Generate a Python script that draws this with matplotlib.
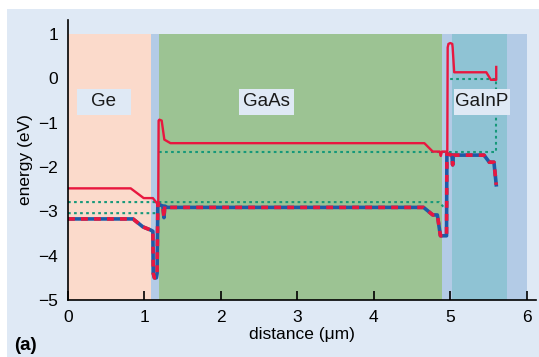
import matplotlib
matplotlib.use("Agg")
import matplotlib.pyplot as plt
from matplotlib.patches import Rectangle

plt.rcParams['font.family'] = ['Liberation Sans Narrow', 'Liberation Sans', 'DejaVu Sans']

# ---- data ----
region_bounds = [0, 1.09, 1.19, 4.89, 5.02, 5.74, 6.0]
region_colors = ['#fbdacb', '#b3cbe6', '#9cc393', '#b3cbe6', '#8fc3d4', '#b3cbe6']

labels = ['Ge', 'GaAs', 'GaInP']
label_x0 = [0.12, 2.24, 5.05]
label_x1 = [0.82, 2.95, 5.78]

ec_x = [0, 0.82, 0.99, 1.11, 1.16, 1.18, 1.185, 1.195, 1.225, 1.26, 1.34, 4.66, 4.77,
        4.86, 4.875, 4.89, 4.96, 4.965, 4.975, 5.0, 5.025, 5.03, 5.05, 5.47, 5.53, 5.6, 5.6]
ec_y = [-2.48, -2.48, -2.70, -2.70, -2.81, -2.81, -0.95, -0.93, -0.95, -1.38, -1.46, -1.46, -1.65,
        -1.65, -1.75, -1.65, -1.65, 0.70, 0.78, 0.80, 0.78, 0.70, 0.14, 0.14, -0.03, -0.03, 0.26]

ev_x = [0, 0.85, 0.98, 1.08, 1.11, 1.115, 1.13, 1.155, 1.165, 1.175, 1.2, 1.24, 1.255, 1.265, 1.3,
        4.65, 4.77, 4.83, 4.87, 4.95, 4.955, 5.02, 5.03, 5.04, 5.44, 5.51, 5.57, 5.6]
ev_y = [-3.17, -3.17, -3.35, -3.42, -3.45, -4.40, -4.50, -4.50, -4.40, -2.81, -2.85, -2.88, -3.14, -2.88, -2.91,
        -2.91, -3.08, -3.08, -3.55, -3.55, -1.70, -1.73, -1.95, -1.73, -1.73, -1.89, -1.89, -2.40]

fq1_x = [1.19, 5.6, 5.6, 5.0]
fq1_y = [-1.65, -1.65, -0.01, -0.01]
fq2_x = [0, 4.85, 4.94]
fq2_y = [-2.79, -2.79, -2.95]
fq3_x = [0, 1.15, 1.2]
fq3_y = [-3.04, -3.04, -2.79]

xticks = [0, 1, 2, 3, 4, 5, 6]
yticks = [1, 0, -1, -2, -3, -4, -5]

# ---- figure ----
fig = plt.figure(figsize=(5.39, 3.57), dpi=100)
fig.patch.set_facecolor('white')
bg = '#dfe9f5'
fig.patches.append(Rectangle((7/539, 0), 1 - 7/539, 1 - 9/357, transform=fig.transFigure,
                             facecolor=bg, edgecolor='none', zorder=-10))

ax = fig.add_axes([68/539, 1 - 300/357, (536 - 68)/539, (300 - 20)/357])
ax.set_facecolor('none')
ax.set_xlim(0, 6.12)
ax.set_ylim(-5, 1.32)

for i, c in enumerate(region_colors):
    ax.add_patch(Rectangle((region_bounds[i], -5), region_bounds[i+1] - region_bounds[i], 6.0,
                           facecolor=c, edgecolor='none', zorder=0))

dot_col = '#16987a'
for xs, ys in [(fq1_x, fq1_y), (fq2_x, fq2_y), (fq3_x, fq3_y)]:
    ax.plot(xs, ys, color=dot_col, lw=1.5, linestyle=(0, (1.3, 1.6)), zorder=2)

ax.plot(ev_x, ev_y, color='#1f5aa6', lw=2.6, zorder=3)
ax.plot(ev_x, ev_y, color='#e8173f', lw=2.6, linestyle=(0, (1.9, 1.7)), zorder=3.1)
ax.plot(ec_x, ec_y, color='#e8173f', lw=1.7, zorder=4)

for name, x0, x1 in zip(labels, label_x0, label_x1):
    ax.add_patch(Rectangle((x0, -0.83), x1 - x0, 0.60, facecolor=bg, edgecolor='none', zorder=5))
    ax.text((x0 + x1) / 2, -0.52, name, ha='center', va='center', fontsize=13.5, zorder=6,
            color='#1a1a1a')

for s in ['top', 'right']:
    ax.spines[s].set_visible(False)
for s in ['left', 'bottom']:
    ax.spines[s].set_linewidth(1.2)
    ax.spines[s].set_zorder(7)

ax.set_xticks(xticks)
ax.set_yticks(yticks)
ax.set_yticklabels([f'{v}'.replace('-', '\u2212') for v in yticks])
ax.tick_params(axis='x', direction='in', length=6.5, width=1.2, pad=7, labelsize=12.5, zorder=8)
ax.tick_params(axis='y', length=0, pad=7, labelsize=12.5)

ax.set_xlabel('distance (\u03bcm)', fontsize=12.5, labelpad=2)
ax.set_ylabel('energy (eV)', fontsize=12.5, labelpad=4)
fig.text(14/539, 1 - 346/357, '(a)', fontsize=13.5, fontweight='bold', va='center', ha='left')

fig.savefig('out.png', dpi=100, facecolor=fig.get_facecolor())
